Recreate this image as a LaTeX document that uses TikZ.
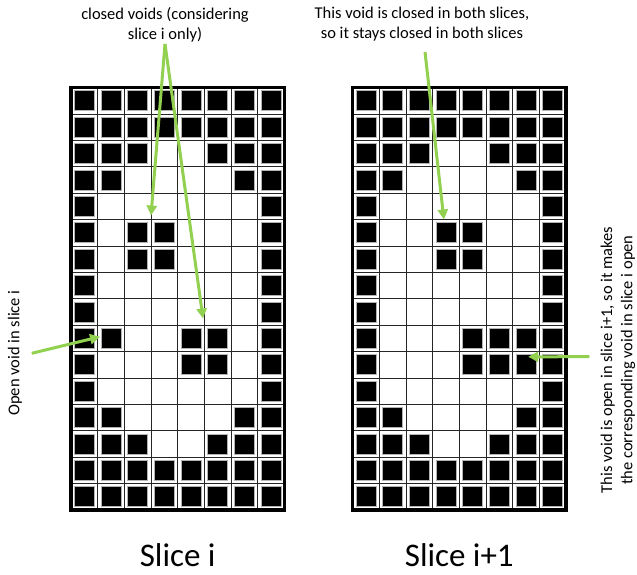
\documentclass[tikz,border=0pt]{standalone}
\usepackage{fontspec}
\setmainfont{Carlito}
\usetikzlibrary{arrows.meta}
\definecolor{voidgreen}{HTML}{92D050}
\begin{document}
\begin{tikzpicture}[x=1pt,y=-1pt,
  gridline/.style={black!85,line width=0.8pt},
  cell/.style={fill=black,draw=gray!60,line width=0.8pt},
  pointer/.style={voidgreen,line width=3pt,-{Triangle[width=10pt,length=10pt]}},
  note/.style={font=\fontsize{16.5}{20.2}\selectfont,inner sep=0pt,align=center},
  title/.style={font=\fontsize{33}{40}\selectfont,inner sep=0pt,anchor=base}]
\useasboundingbox (0,0) rectangle (637,574);
\begin{scope}[shift={(71,87.5)},x=26.67pt,y=-26.4pt]
\foreach \i in {1,...,7} \draw[gridline] (\i,0) -- (\i,16);
\foreach \j in {1,...,15} \draw[gridline] (0,\j) -- (8,\j);
\foreach \r/\cols in {0/{0,...,7},1/{0,...,7},2/{0,1,2,5,6,7},3/{0,1,6,7},4/{0,7},5/{0,2,3,7},6/{0,2,3,7},7/{0,7},
    8/{0,7},9/{0,1,4,5,7},10/{0,4,5,7},11/{0,7},12/{0,1,6,7},13/{0,1,2,5,6,7},14/{0,...,7},15/{0,...,7}}
  \foreach \c in \cols \draw[cell] (\c+0.5,\r+0.5) +(-10pt,-10pt) rectangle +(10pt,10pt);
\draw[line width=3.5pt] (0,0) rectangle (8,16);
\coordinate (closedA) at (3,4.85);
\coordinate (closedB) at (4.95,8.75);
\coordinate (openA) at (1.09,9.44);
\end{scope}
\begin{scope}[shift={(352.7,87.5)},x=26.67pt,y=-26.4pt]
\foreach \i in {1,...,7} \draw[gridline] (\i,0) -- (\i,16);
\foreach \j in {1,...,15} \draw[gridline] (0,\j) -- (8,\j);
\foreach \r/\cols in {0/{0,...,7},1/{0,...,7},2/{0,1,2,5,6,7},3/{0,1,6,7},4/{0,7},5/{0,3,4,7},6/{0,3,4,7},7/{0,7},
    8/{0,7},9/{0,4,5,6,7},10/{0,4,5,6,7},11/{0,7},12/{0,1,6,7},13/{0,1,2,5,6,7},14/{0,...,7},15/{0,...,7}}
  \foreach \c in \cols \draw[cell] (\c+0.5,\r+0.5) +(-10pt,-10pt) rectangle +(10pt,10pt);
\draw[line width=3.5pt] (0,0) rectangle (8,16);
\coordinate (bothC) at (3.42,5.0);
\coordinate (openB) at (6.58,10.2);
\end{scope}
\node[note,anchor=north] (closedNote) at (165,7) {closed voids (considering\\slice i only)};
\node[note,anchor=north] (bothNote) at (422,7) {This void is closed in both slices,\\so it stays closed in both slices};
\node[note,rotate=90] (openNote) at (15,353) {Open void in slice i};
\node[note,rotate=90] (reasonNote) at (618,360) {This void is open in slice i+1, so it makes\\the corresponding void in slice i open};
\node[title] (sliceA) at (177.7,566) {Slice i};
\node[title] (sliceB) at (459.3,566) {Slice i+1};
\coordinate (tailClosed) at (165,44);
\coordinate (tailBoth) at (425,52);
\coordinate (tailOpen) at (31.7,353.3);
\coordinate (tailReason) at (589.3,356.7);
\draw[pointer] (tailClosed) -- (closedA);
\draw[pointer] (tailClosed) -- (closedB);
\draw[pointer] (tailBoth) -- (bothC);
\draw[pointer] (tailOpen) -- (openA);
\draw[pointer] (tailReason) -- (openB);
\end{tikzpicture}
\end{document}
